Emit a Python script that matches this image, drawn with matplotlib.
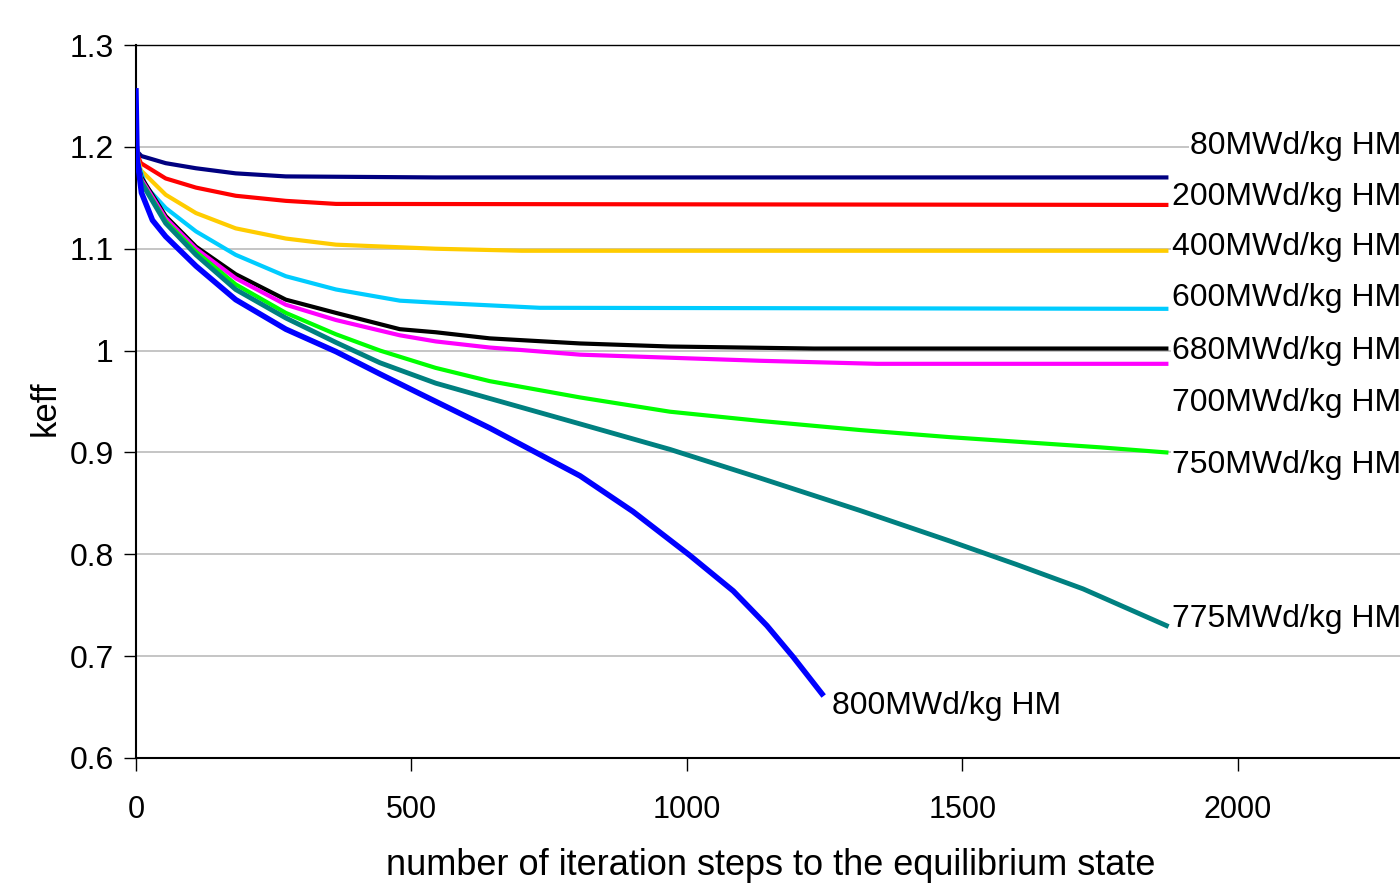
import numpy as np
import matplotlib.pyplot as plt
from matplotlib.ticker import FuncFormatter

# burnup cases (labels) and line colours
labels = ["80MWd/kg HM", "200MWd/kg HM", "400MWd/kg HM", "600MWd/kg HM",
          "680MWd/kg HM", "700MWd/kg HM", "750MWd/kg HM", "775MWd/kg HM",
          "800MWd/kg HM"]
colors = ["#000080", "#ff0000", "#ffcc00", "#00ccff", "#000000",
          "#ff00ff", "#00ff00", "#008080", "#0000ff"]

# keff vs iteration steps
x80 = [0, 3, 10, 54, 109, 181, 272, 544, 1870]
y80 = [1.21, 1.195, 1.191, 1.184, 1.179, 1.174, 1.171, 1.170, 1.170]

x200 = [0, 3, 9, 54, 109, 181, 272, 363, 1870]
y200 = [1.21, 1.192, 1.184, 1.169, 1.160, 1.152, 1.147, 1.144, 1.143]

x400 = [0, 3, 9, 54, 109, 181, 272, 363, 544, 700, 1870]
y400 = [1.21, 1.19, 1.177, 1.153, 1.135, 1.120, 1.110, 1.104, 1.100, 1.098, 1.098]

x600 = [0, 3, 18, 54, 109, 181, 272, 363, 479, 544, 733, 1870]
y600 = [1.21, 1.185, 1.161, 1.140, 1.117, 1.094, 1.073, 1.060, 1.049, 1.047,
        1.042, 1.041]

x680 = [0, 3, 10, 54, 109, 181, 272, 363, 479, 544, 642, 806, 969, 1230, 1870]
y680 = [1.21, 1.185, 1.17, 1.132, 1.102, 1.075, 1.050, 1.037, 1.021, 1.018,
        1.012, 1.007, 1.004, 1.002, 1.002]

x700 = [0, 3, 10, 54, 109, 181, 272, 363, 479, 544, 642, 806, 969, 1132, 1345, 1870]
y700 = [1.21, 1.184, 1.168, 1.130, 1.100, 1.071, 1.045, 1.030, 1.015, 1.009,
        1.003, 0.996, 0.993, 0.990, 0.987, 0.987]

x750 = [0, 3, 10, 54, 109, 181, 272, 363, 443, 544, 642, 806, 969, 1132,
        1314, 1477, 1750, 1870]
y750 = [1.21, 1.183, 1.166, 1.127, 1.097, 1.065, 1.037, 1.016, 1.000, 0.983,
        0.970, 0.954, 0.940, 0.931, 0.922, 0.915, 0.905, 0.900]

x775 = [0, 3, 10, 54, 109, 181, 272, 363, 443, 544, 642, 806, 969,
        1132, 1314, 1477, 1598, 1719, 1870]
y775 = [1.21, 1.182, 1.165, 1.125, 1.094, 1.060, 1.032, 1.008, 0.988, 0.968,
        0.953, 0.928, 0.903, 0.875, 0.843, 0.813, 0.790, 0.766, 0.730]

x800 = [0, 2, 10, 30, 54, 109, 181, 272, 363, 443, 514, 642, 806, 902,
        1005, 1084, 1145, 1193, 1245]
y800 = [1.255, 1.19, 1.155, 1.128, 1.112, 1.083, 1.050, 1.021, 0.999, 0.977,
        0.958, 0.924, 0.877, 0.842, 0.799, 0.764, 0.730, 0.699, 0.663]

xs = [x80, x200, x400, x600, x680, x700, x750, x775, x800]
ys = [y80, y200, y400, y600, y680, y700, y750, y775, y800]
widths = [3, 3, 3, 3, 3, 3, 3, 3.5, 4]

# where the case labels sit (x, keff)
label_x = [1913, 1880, 1880, 1880, 1880, 1880, 1880, 1880, 1263]
label_y = [1.201, 1.151, 1.102, 1.052, 1.0, 0.949, 0.888, 0.736, 0.651]

plt.rcParams['font.family'] = ['Liberation Sans', 'DejaVu Sans']

fig = plt.figure(figsize=(14, 8.88), dpi=100)
ax = fig.add_axes([0.0971, 0.1464, 0.9029, 0.8029])

for x, y, c, w in zip(xs, ys, colors, widths):
    ax.plot(x, y, color=c, lw=w, zorder=3)

for t, lx, ly in zip(labels, label_x, label_y):
    ax.text(lx, ly, t, fontsize=23, ha='left', va='center', clip_on=False,
            zorder=4, bbox=dict(facecolor='white', edgecolor='none', pad=1))

ax.set_xlim(0, 2294)
ax.set_ylim(0.6, 1.3)
ax.set_xticks([0, 500, 1000, 1500, 2000])
ax.set_yticks(np.arange(0.6, 1.31, 0.1))
ax.yaxis.set_major_formatter(FuncFormatter(lambda v, p: "%g" % round(v, 1)))
ax.grid(axis='y', color='#c0c0c0', lw=1.3)
ax.set_axisbelow(True)

ax.spines['right'].set_visible(False)
ax.spines['left'].set_linewidth(1.5)
ax.spines['bottom'].set_linewidth(1.5)
ax.spines['top'].set_linewidth(1.0)
ax.tick_params(axis='x', length=9, width=1, labelsize=22, pad=18)
ax.tick_params(axis='y', length=9, width=1, labelsize=23, pad=7)

ax.set_xlabel("number of iteration steps to the equilibrium state", fontsize=26)
ax.xaxis.label.set_va('center')
ax.xaxis.set_label_coords(0.502, -0.151)
ax.set_ylabel("keff", fontsize=25)
ax.yaxis.label.set_va('center')
ax.yaxis.set_label_coords(-0.072, 0.491)

fig.savefig("out.png", dpi=100)
